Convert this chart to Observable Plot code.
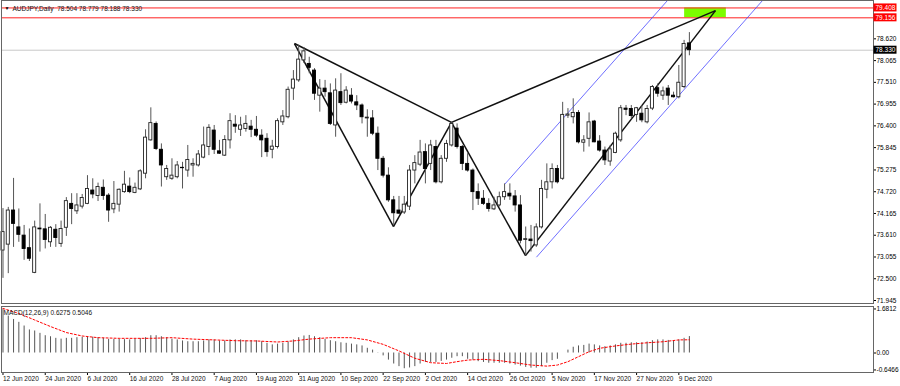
<!DOCTYPE html>
<html><head><meta charset="utf-8">
<script src="https://cdn.jsdelivr.net/npm/d3@7"></script>
<script src="https://cdn.jsdelivr.net/npm/@observablehq/plot@0.6"></script>
<style>
html,body{margin:0;padding:0;background:#fff;}
#chart{width:900px;height:386px;overflow:hidden;}
#chart svg{display:block;}
</style></head><body><div id="chart"></div>
<script>
// ---- data ----
const opens = [73.22,73.37,74.24,73.81,73.60,73.28,72.65,73.78,73.76,73.43,73.75,73.39,73.80,74.41,74.22,74.34,74.41,74.75,74.61,74.82,
74.62,74.27,74.39,74.71,74.85,74.69,74.78,75.18,76.03,76.45,75.79,75.09,75.05,75.09,75.33,75.26,75.39,75.39,75.59,75.86,
76.28,75.75,75.64,76.03,76.43,76.30,76.32,76.38,76.30,76.15,76.07,75.79,75.86,76.49,76.62,77.35,77.56,78.07,77.98,77.81,
77.17,77.35,77.23,76.41,77.26,76.99,77.17,77.00,76.92,76.59,76.59,76.20,75.56,75.13,74.50,74.24,74.19,74.34,75.26,75.41,
75.73,75.43,75.86,74.96,75.56,75.90,76.33,75.86,75.43,75.26,74.71,74.54,74.41,74.27,74.37,74.58,74.67,74.60,74.37,73.49,
73.50,73.35,73.81,74.77,74.96,75.30,75.05,76.66,76.62,76.73,75.97,76.07,76.51,76.00,75.77,75.49,75.71,76.03,76.84,76.83,
76.68,76.71,76.49,76.84,77.36,77.17,77.35,77.17,77.13,77.39,78.504];
const highs = [74.29,74.32,75.06,74.28,73.86,73.77,73.97,74.41,74.14,73.83,73.88,73.97,74.57,74.67,74.67,74.65,75.13,75.05,74.94,75.02,
74.67,74.98,74.79,75.24,75.07,74.94,75.28,76.30,76.86,76.50,75.94,75.39,75.56,75.49,75.47,75.90,75.56,75.77,76.37,76.43,
76.41,76.03,76.15,76.71,76.66,76.62,76.66,76.54,76.64,76.30,76.20,76.03,76.58,76.79,77.39,77.81,78.46,78.40,78.15,77.86,
77.58,77.56,77.47,77.60,77.73,77.40,77.35,77.17,76.96,76.81,76.79,76.37,75.62,75.33,74.60,74.60,74.60,75.39,75.64,76.03,
75.94,76.03,76.03,75.64,76.03,76.49,76.45,75.90,75.69,75.30,74.92,74.75,74.54,74.58,74.71,74.92,74.92,74.75,74.62,73.82,
73.86,73.90,75.01,75.43,75.43,75.39,77.00,76.84,77.09,76.79,76.15,76.73,76.54,76.15,75.86,75.90,76.24,76.92,76.92,76.92,
76.87,76.92,76.92,77.43,77.47,77.39,77.43,77.26,77.94,78.58,78.779];
const lows = [72.51,72.63,73.30,73.43,72.97,72.94,72.63,73.18,73.26,73.30,73.30,73.30,73.58,73.88,74.14,74.28,74.39,74.54,74.47,74.50,
73.94,74.16,74.20,74.68,74.67,74.67,74.75,75.05,76.01,75.77,74.84,75.01,75.01,75.05,74.79,75.09,75.09,75.35,75.56,75.64,
75.67,75.67,75.62,75.81,76.21,76.13,76.24,76.10,76.10,75.59,75.60,75.56,75.81,76.41,76.58,77.05,77.51,77.99,77.73,77.05,
76.75,77.13,76.41,76.11,76.92,76.96,76.96,76.79,76.45,76.11,76.15,75.26,75.07,74.45,73.86,74.14,74.14,74.24,74.92,75.36,
74.92,75.26,74.92,74.92,75.47,75.86,75.81,75.26,75.22,74.24,74.37,74.37,74.20,74.24,74.33,74.50,74.50,74.20,73.39,73.09,
73.18,73.30,73.77,74.54,74.79,74.92,75.01,76.59,76.45,75.94,75.73,75.86,75.97,75.73,75.39,75.37,75.69,75.98,76.66,76.58,
76.49,76.48,76.45,76.79,77.13,77.05,76.92,77.11,77.09,77.35,78.188];
const closes = [73.69,74.24,73.90,73.62,73.26,73.01,73.81,73.76,73.49,73.80,73.54,73.77,74.48,74.28,74.37,74.56,74.79,74.65,74.84,74.61,
74.24,74.41,74.77,74.90,74.71,74.82,75.24,76.10,76.47,75.81,75.39,75.30,75.13,75.39,75.32,75.53,75.43,75.67,75.90,76.35,
75.79,75.69,76.04,76.52,76.38,76.41,76.45,76.30,76.15,76.03,75.73,75.87,76.52,76.64,77.32,77.58,78.09,78.30,77.88,77.22,
77.35,77.26,76.45,77.30,76.98,77.30,77.02,76.92,76.62,76.61,76.20,75.56,75.13,74.50,74.17,74.16,74.39,75.26,75.45,75.72,
75.30,75.90,74.96,75.56,75.94,76.45,75.86,75.43,75.26,74.71,74.54,74.41,74.28,74.37,74.58,74.71,74.60,74.37,73.47,73.51,
73.46,73.81,74.79,74.96,75.30,74.96,76.68,76.69,76.73,75.98,76.03,76.49,75.98,75.77,75.52,75.80,76.20,76.85,76.81,76.65,
76.85,76.54,76.83,77.39,77.22,77.28,77.17,77.13,77.50,78.49,78.330];

const dateTickIdx = [0,8,16,24,32,40,48,56,64,72,80,88,96,104,112,120,128];
const dateTickLabels = ["12 Jun 2020","24 Jun 2020","6 Jul 2020","16 Jul 2020","28 Jul 2020","7 Aug 2020","19 Aug 2020","31 Aug 2020",
"10 Sep 2020","22 Sep 2020","2 Oct 2020","14 Oct 2020","26 Oct 2020","5 Nov 2020","17 Nov 2020","27 Nov 2020","9 Dec 2020"];

const priceTicks = [78.620,78.065,77.510,76.955,76.400,75.845,75.275,74.720,74.165,73.610,73.055,72.500,71.945];
const redLevels = [79.408, 79.156];
const bidLevel = [78.330];

// harmonic pattern points (bar index, price)
const patNames = ["X","A","B","C","D"];
const patIdx = [55.2, 73.96, 84.94, 98.96, 134.94];
const patPrice = [78.50, 73.83, 76.49, 73.09, 79.34];
const patLegs = [["X","A"],["A","B"],["B","C"],["C","D"],["X","B"],["B","D"]];

// blue channel lines
const chanX1 = [94.98, 101.04], chanY1 = [74.904, 73.050];
const chanX2 = [125.85, 143.85], chanY2 = [79.598, 79.598];

// green target zone
const zoneIdx = [129.1, 137.0];
const zonePrice = [79.156, 79.408];

// MACD histogram, one per bar
const macdHist = [1.68,1.41,1.28,1.17,1.03,0.88,0.84,0.75,0.66,0.62,0.56,0.53,0.56,0.56,0.585,0.60,0.61,0.60,0.585,0.56,
0.52,0.52,0.52,0.51,0.50,0.52,0.55,0.585,0.66,0.66,0.62,0.585,0.53,0.50,0.46,0.43,0.43,0.43,0.46,0.50,
0.50,0.46,0.46,0.50,0.50,0.50,0.47,0.47,0.47,0.43,0.37,0.31,0.34,0.37,0.42,0.50,0.585,0.65,0.67,0.62,
0.585,0.52,0.47,0.43,0.39,0.37,0.34,0.31,0.27,0.18,0.11,0.01,-0.11,-0.27,-0.42,-0.52,-0.60,-0.57,-0.52,-0.42,
-0.36,-0.36,-0.36,-0.32,-0.27,-0.20,-0.14,-0.14,-0.24,-0.27,-0.33,-0.36,-0.39,-0.39,-0.39,-0.39,-0.42,-0.46,-0.50,-0.55,
-0.58,-0.58,-0.52,-0.39,-0.29,-0.24,0.0,0.11,0.22,0.27,0.29,0.34,0.31,0.27,0.24,0.27,0.31,0.37,0.37,0.39,
0.39,0.39,0.42,0.47,0.50,0.50,0.48,0.47,0.50,0.56,0.6275];
// MACD signal line (read at selected bars)
const sigIdx = [0,3,6,9,12,15,18,22,28,32,36,40,44,48,52,55,58,62,66,69,72,75,78,81,84,86,88,91,94,97,100,103,105,107,109,111,113,116,119,122,125,128,130];
const sigVal = [1.70,1.51,1.26,1.01,0.78,0.65,0.585,0.56,0.56,0.585,0.53,0.50,0.47,0.46,0.42,0.46,0.53,0.585,0.585,0.50,0.33,0.08,-0.20,-0.37,-0.40,-0.33,-0.27,-0.24,-0.29,-0.37,-0.46,-0.50,-0.46,-0.33,-0.14,0.05,0.18,0.27,0.34,0.39,0.43,0.50,0.5046];
const macdTicks = [1.6812, 0, -0.6466];

// ---- build ----
const bars = opens.map((o, i) => ({i, open: o, high: highs[i], low: lows[i], close: closes[i]}));
const upBars = bars.filter(d => d.close >= d.open);
const downBars = bars.filter(d => d.close < d.open);
const pts = Object.fromEntries(patNames.map((n, k) => [n, {x: patIdx[k], y: patPrice[k]}]));
const legs = patLegs.map(([a, b]) => ({x1: pts[a].x, y1: pts[a].y, x2: pts[b].x, y2: pts[b].y}));
const chans = chanX1.map((x, k) => ({x1: x, y1: chanY1[k], x2: chanX2[k], y2: chanY2[k]}));
const zone = [{x1: zoneIdx[0], x2: zoneIdx[1], y1: zonePrice[0], y2: zonePrice[1]}];

const FONT = "'Liberation Sans', Arial, sans-serif";
const xDomain = [-0.284, 164.87];
const BW = 0.29;

const main = Plot.plot({
  width: 900, height: 305,
  marginLeft: 1, marginRight: 27, marginTop: 0, marginBottom: 2,
  style: {background: "white", fontFamily: FONT, fontSize: "6.5px", color: "black"},
  x: {domain: xDomain, axis: null},
  y: {domain: [71.8685, 79.598], axis: "right", ticks: priceTicks, tickFormat: d3.format(".3f"), tickSize: 2, tickPadding: 1, label: null},
  marks: [
    Plot.rect(zone, {x1: "x1", x2: "x2", y1: "y1", y2: "y2", fill: "#7cfc00"}),
    Plot.ruleY(redLevels, {stroke: "#ff2020", strokeWidth: 1}),
    Plot.ruleY(bidLevel, {stroke: "#c8c8c8", strokeWidth: 1}),
    Plot.link(chans, {x1: "x1", y1: "y1", x2: "x2", y2: "y2", stroke: "#4a4aff", strokeWidth: 0.8}),
    Plot.link(legs, {x1: "x1", y1: "y1", x2: "x2", y2: "y2", stroke: "#111", strokeWidth: 1.5}),
    Plot.ruleX(bars, {x: "i", y1: "low", y2: "high", stroke: "#555", strokeWidth: 1}),
    Plot.rect(upBars, {x1: d => d.i - BW, x2: d => d.i + BW, y1: "open", y2: "close", fill: "white", stroke: "#222", strokeWidth: 0.9}),
    Plot.rect(downBars, {x1: d => d.i - BW, x2: d => d.i + BW, y1: "open", y2: "close", fill: "black", stroke: "black", strokeWidth: 0.9}),
    Plot.frame({stroke: "#666"}),
    Plot.text(["\u25BC"], {frameAnchor: "top-left", dx: 3, dy: 6, fontSize: 5, textAnchor: "start", fill: "black"}),
    Plot.text(["AUDJPY,Daily  78.504 78.779 78.188 78.330"], {frameAnchor: "top-left", dx: 11, dy: 6, textAnchor: "start", fill: "#111"})
  ]
});

// price labels with coloured boxes, positioned through the plot's y scale
const ysc = main.scale("y");
const yf = ysc.apply ? (v => ysc.apply(v)) : d3.scaleLinear(ysc.domain, ysc.range);
const boxes = [...redLevels.map(v => ({v, fill: "#ff0000"})), ...bidLevel.map(v => ({v, fill: "#000000"}))];
const g = d3.select(main).append("g").attr("text-anchor", "start");
boxes.forEach(b => {
  const y = yf(b.v);
  g.append("rect").attr("x", 873.5).attr("y", y - 4).attr("width", 23).attr("height", 8).attr("fill", b.fill);
  g.append("text").attr("x", 875.5).attr("y", y).attr("dy", "0.35em").attr("fill", "white").attr("text-anchor", "start")
    .attr("font-family", FONT).attr("font-size", "6.5px").text(b.v.toFixed(3));
});

const macd = Plot.plot({
  width: 900, height: 81,
  marginLeft: 1, marginRight: 27, marginTop: 1, marginBottom: 14,
  style: {background: "white", fontFamily: FONT, fontSize: "6.5px", color: "black"},
  x: {domain: xDomain, axis: "bottom", ticks: dateTickIdx, tickFormat: () => "", tickSize: 3, label: null},
  y: {domain: [-0.744, 1.775], axis: "right", ticks: macdTicks, tickFormat: d => d === 0 ? "0.00" : d.toFixed(4), tickSize: 2, tickPadding: 1, label: null},
  marks: [
    Plot.ruleX(macdHist, {x: (d, i) => i, y1: 0, y2: d => d, stroke: "#555", strokeWidth: 1}),
    Plot.line(sigIdx, {x: d => d, y: (d, k) => sigVal[k], stroke: "#ff0000", strokeWidth: 1, strokeDasharray: "2,2"}),
    Plot.frame({stroke: "#666"}),
    Plot.text(["MACD(12,26,9) 0.6275 0.5046"], {frameAnchor: "top-left", dx: 2, dy: 4, textAnchor: "start", fill: "#111"}),
    Plot.text(dateTickIdx, {x: d => d, frameAnchor: "bottom", dy: 8, text: (d, k) => dateTickLabels[k], textAnchor: "start", fill: "#111"})
  ]
});

const root = document.getElementById("chart");
root.appendChild(main);
root.appendChild(macd);
</script></body></html>
